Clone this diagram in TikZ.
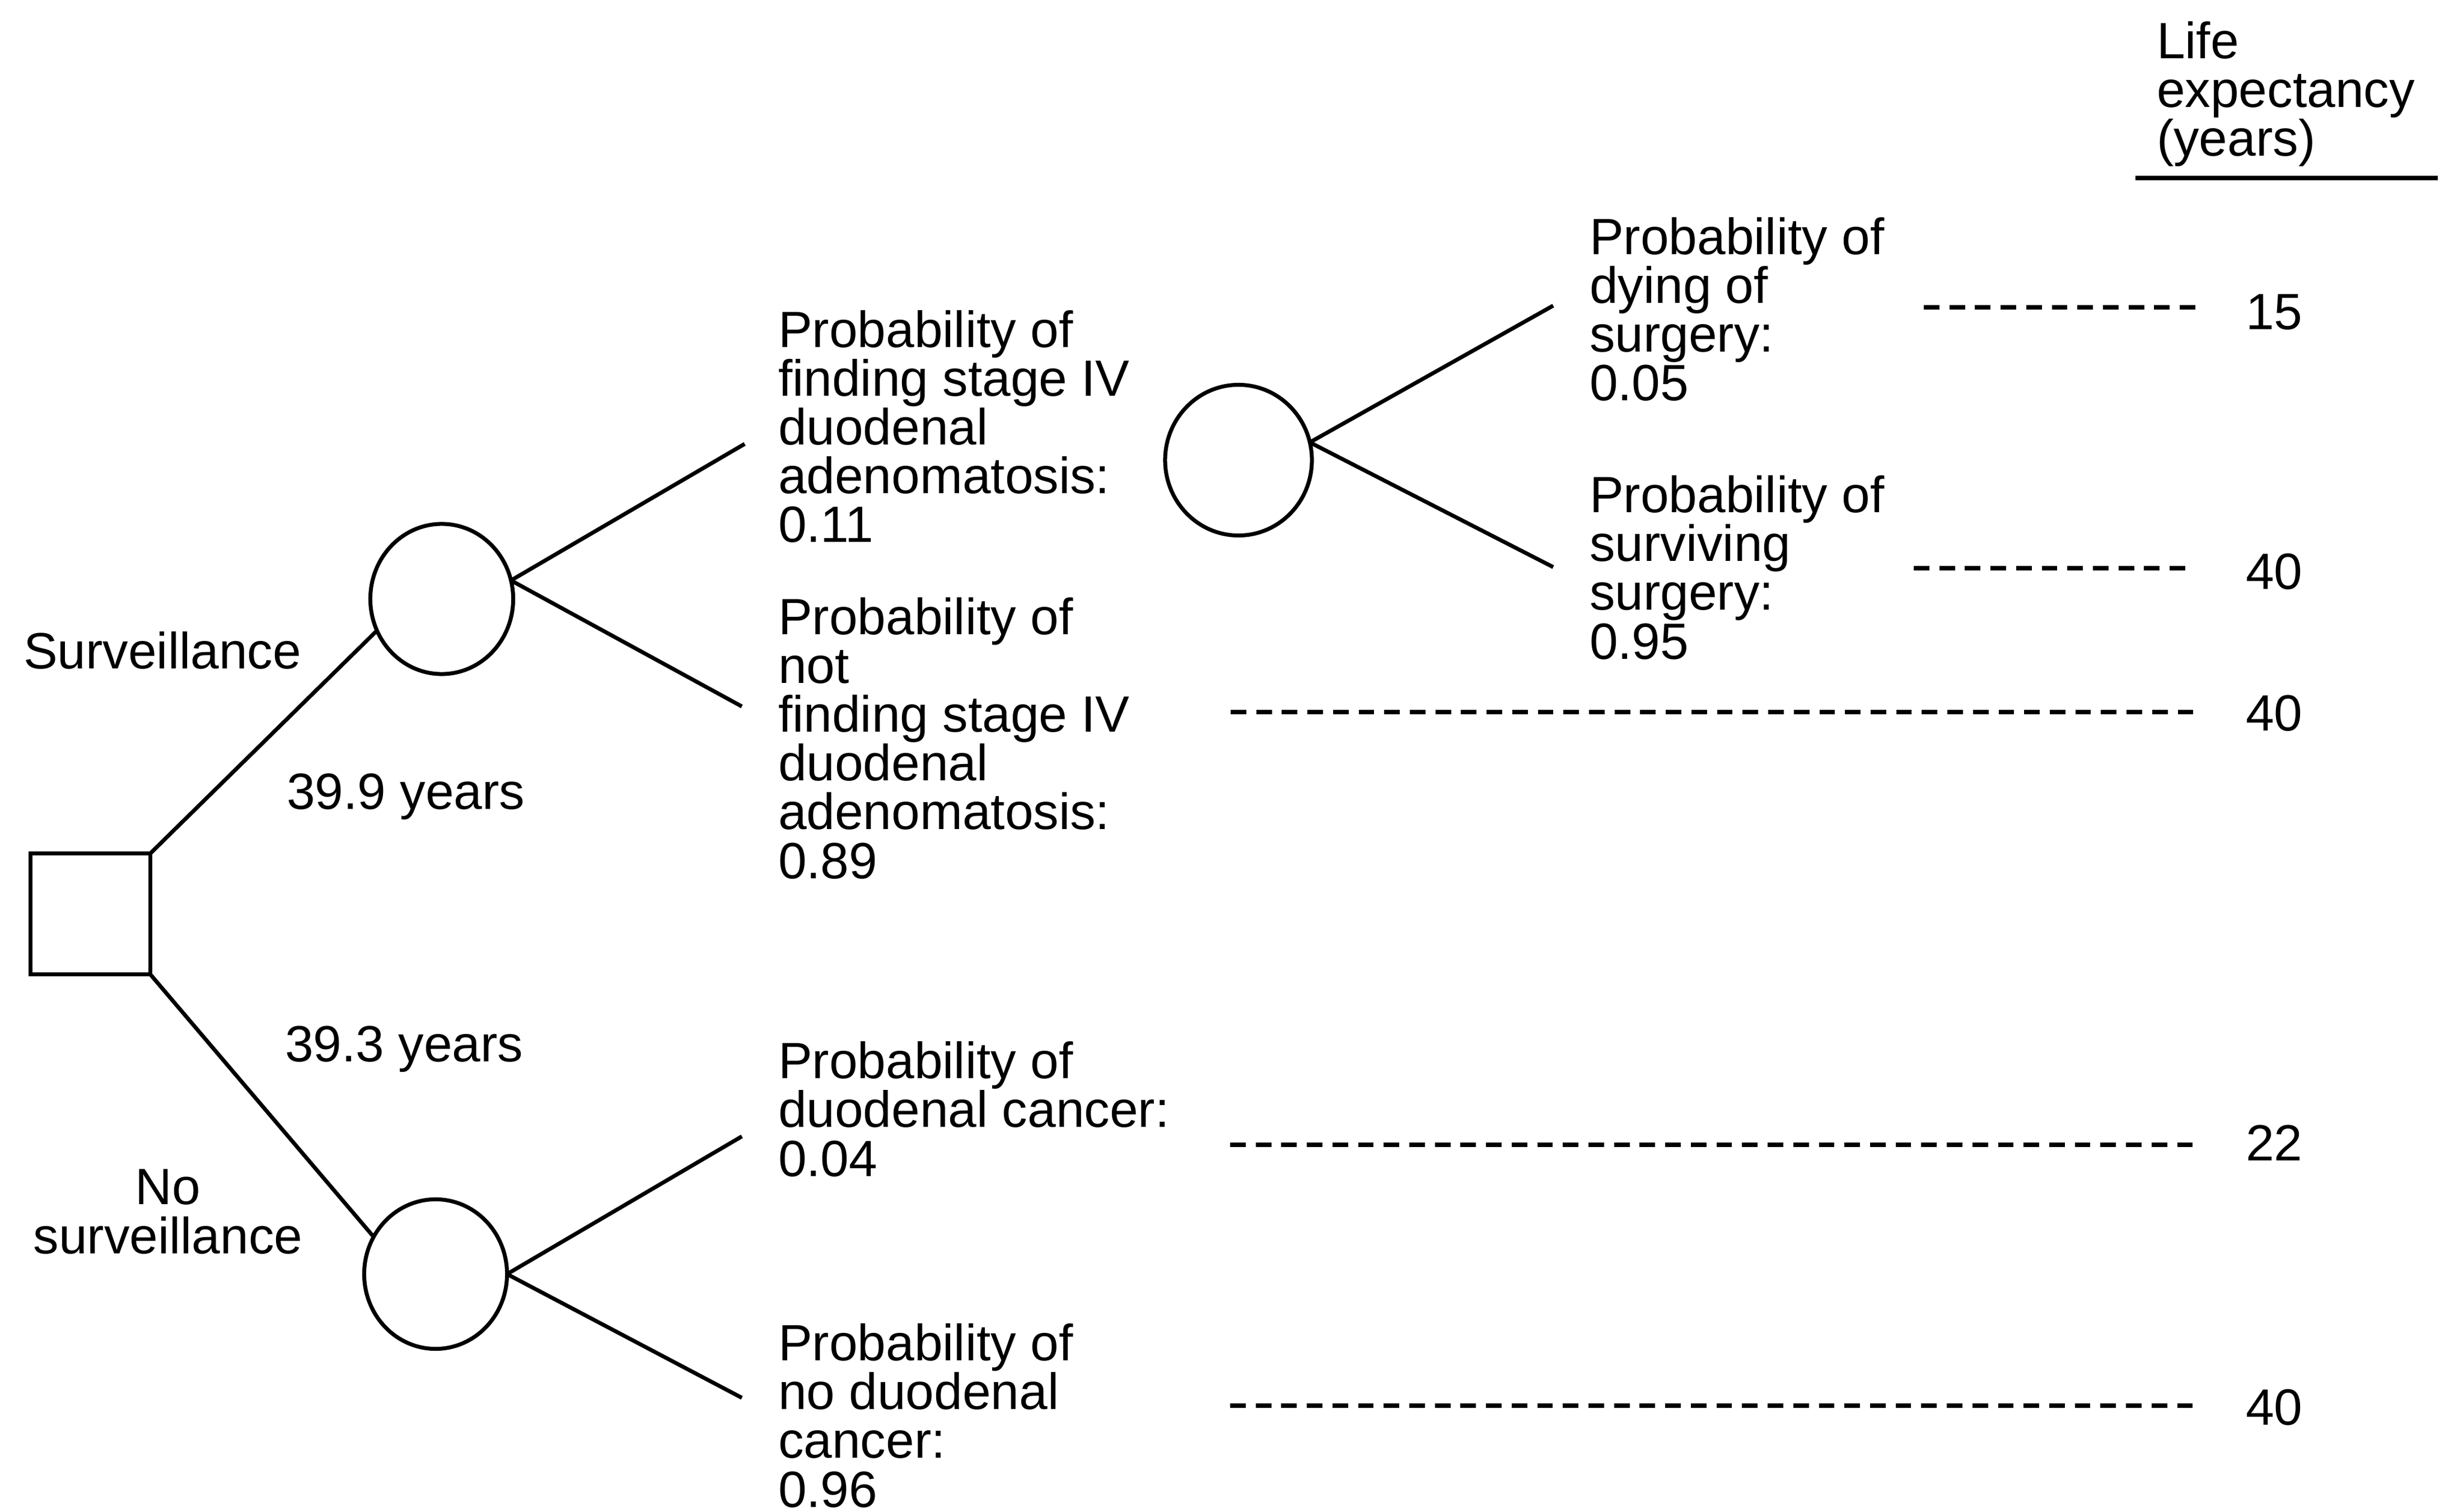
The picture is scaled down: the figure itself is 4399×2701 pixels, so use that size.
\documentclass[tikz,border=0pt]{standalone}
\usepackage{fontspec}
\setmainfont{Liberation Sans}
\usetikzlibrary{shapes.geometric}
\begin{document}
\begin{tikzpicture}[x=0.01cm,y=-0.01cm,
  lbl/.style={font=\fontsize{25.9pt}{24.75pt}\selectfont, inner sep=0pt, outer sep=0pt, anchor=base west, align=left},
  branch/.style={line width=2pt},
  leader/.style={line width=2.2pt, dash pattern=on 7.9pt off 5.1pt},
  chance/.style={draw, ellipse, line width=2pt, inner sep=0pt, outer sep=0pt},
  decision/.style={draw, rectangle, line width=2pt, inner sep=0pt, outer sep=0pt, minimum width=2.13cm, minimum height=2.15cm}]
\useasboundingbox (0,0) rectangle (4399,2701);

% decision and chance nodes
\node[decision] (sq) at (161.5,1632.5) {};
\node[chance, minimum width=2.55cm, minimum height=2.68cm] (c1) at (789,1070) {};
\node[chance, minimum width=2.62cm, minimum height=2.69cm] (c2) at (2212,822) {};
\node[chance, minimum width=2.55cm, minimum height=2.67cm] (c3) at (778,2276) {};

% labels (multi-line nodes are placed by the baseline of their last line)
\node[lbl] (surv) at (42,1195) {Surveillance};
\node[lbl, anchor=base, align=center] (nosurv) at (300,2239) {No\\surveillance};
\node[lbl] (v1) at (512,1445) {39.9 years};
\node[lbl] (v2) at (509,1896) {39.3 years};
\node[lbl] (p1) at (1390,969) {Probability of\\finding stage IV\\duodenal\\adenomatosis:\\0.11};
\node[lbl] (p2) at (1390,1569) {Probability of\\not\\finding stage IV\\duodenal\\adenomatosis:\\0.89};
\node[lbl] (p3) at (2839,716) {Probability of\\dying of\\surgery:\\0.05};
\node[lbl] (p4) at (2839,1177) {Probability of\\surviving\\surgery:\\0.95};
\node[lbl] (p5) at (1390,2101) {Probability of\\duodenal cancer:\\0.04};
\node[lbl] (p6) at (1390,2692) {Probability of\\no duodenal\\cancer:\\0.96};
\node[lbl] (hdr) at (3852,279) {Life\\expectancy\\(years)};

% outcome values
\node[lbl] (n1) at (4011,589) {15};
\node[lbl] (n2) at (4011,1053) {40};
\node[lbl] (n3) at (4011,1305) {40};
\node[lbl] (n4) at (4011,2073) {22};
\node[lbl] (n5) at (4011,2545) {40};

% branch end points
\coordinate (e1) at (1330,793);
\coordinate (e2) at (1325,1262);
\coordinate (e3) at (2774,546);
\coordinate (e4) at (2774,1013);
\coordinate (e5) at (1325,2030);
\coordinate (e6) at (1325,2497);

% leader end points
\coordinate (a1) at (3436,549);  \coordinate (b1) at (3935,549);
\coordinate (a2) at (3418,1015); \coordinate (b2) at (3916,1015);
\coordinate (a3) at (2198,1272); \coordinate (b3) at (3927,1272);
\coordinate (a4) at (2197,2045); \coordinate (b4) at (3927,2045);
\coordinate (a5) at (2197,2511); \coordinate (b5) at (3927,2511);

% header underline
\coordinate (u1) at (3814,318); \coordinate (u2) at (4354,318);

% branches
\draw[branch] (sq.north east) -- (c1.206);
\draw[branch] (sq.south east) -- (c3.149);
\draw[branch] (c1.15) -- (e1);
\draw[branch] (c1.15) -- (e2);
\draw[branch] (c2.14) -- (e3);
\draw[branch] (c2.14) -- (e4);
\draw[branch] (c3.east) -- (e5);
\draw[branch] (c3.east) -- (e6);

% leaders
\draw[leader] (a1) -- (b1);
\draw[leader] (a2) -- (b2);
\draw[leader] (a3) -- (b3);
\draw[leader] (a4) -- (b4);
\draw[leader] (a5) -- (b5);

\draw[line width=2.4pt] (u1) -- (u2);
\end{tikzpicture}
\end{document}
